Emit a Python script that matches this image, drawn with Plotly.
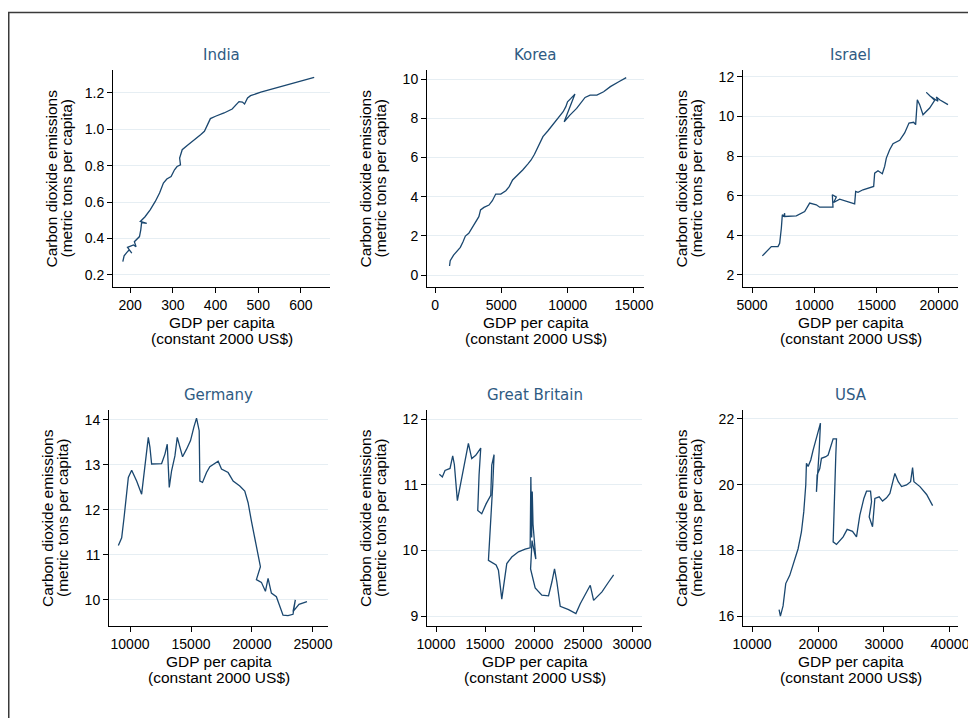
import plotly.graph_objects as go

# ---------------- data ----------------
countries = ["India", "Korea", "Israel", "Germany", "Great Britain", "USA"]

india_gdp = [183, 186, 192, 198, 204, 194, 208, 214, 210, 217, 222, 225, 227, 239, 224, 235, 247, 259, 269, 278,
             286, 296, 304, 310, 318, 316, 322, 333, 349, 365, 374, 380, 388, 400, 420, 439, 447, 455, 463, 468,
             475, 482, 506, 537, 569, 600, 631]
india_co2 = [0.273, 0.305, 0.323, 0.338, 0.32, 0.352, 0.365, 0.356, 0.383, 0.40, 0.411, 0.448, 0.488, 0.484, 0.494,
             0.52, 0.558, 0.604, 0.65, 0.705, 0.727, 0.741, 0.778, 0.796, 0.805, 0.842, 0.888, 0.91, 0.943, 0.971,
             0.989, 1.02, 1.059, 1.072, 1.09, 1.112, 1.13, 1.152, 1.15, 1.139, 1.172, 1.185, 1.204, 1.224, 1.244,
             1.264, 1.286]

korea_gdp = [1093, 1144, 1398, 1653, 1907, 2110, 2288, 2543, 2797, 3051, 3305, 3432, 3687, 4068, 4322, 4576, 4958,
             5339, 5593, 5848, 6229, 6610, 6992, 7246, 7500, 7755, 8136, 8518, 8899, 9280, 9661, 9865, 9992, 10246,
             10551, 9738, 10170, 10678, 11060, 11314, 11696, 12204, 12713, 13221, 13857, 14416]
korea_co2 = [0.46, 0.73, 1.02, 1.22, 1.41, 1.70, 1.99, 2.13, 2.43, 2.72, 2.98, 3.32, 3.45, 3.57, 3.79, 4.13, 4.13,
             4.30, 4.51, 4.85, 5.10, 5.36, 5.66, 5.87, 6.16, 6.55, 7.06, 7.36, 7.69, 7.99, 8.33, 8.59, 8.84, 9.01,
             9.23, 7.82, 8.16, 8.50, 8.84, 9.06, 9.18, 9.18, 9.35, 9.61, 9.86, 10.07]

israel_gdp = [5829, 6150, 6551, 7086, 7219, 7353, 7433, 7540, 7620, 7620, 8556, 9225, 9626, 10160, 10428, 11497,
              11444, 11765, 11551, 12032, 12567, 13235, 13316, 13503, 13904, 14305, 14759, 14840, 15107, 15455,
              15642, 15775, 16043, 16310, 16845, 17246, 17594, 17968, 18128, 18262, 18449, 18717, 19251, 19652,
              18984, 19305, 19920, 19786, 20053, 20722]
israel_co2 = [2.96, 3.18, 3.43, 3.43, 3.60, 4.36, 5.04, 4.95, 5.12, 4.95, 4.98, 5.20, 5.63, 5.54, 5.42, 5.42,
              6.05, 5.93, 5.66, 5.83, 5.71, 5.59, 6.22, 6.17, 6.30, 6.38, 6.47, 7.14, 7.26, 7.11, 7.48, 7.90, 8.32,
              8.63, 8.80, 9.17, 9.67, 9.71, 9.59, 10.85, 10.60, 10.09, 10.43, 10.82, 11.22, 11.02, 10.77, 10.99,
              10.85, 10.60]

germany_gdp = [9046, 9318, 9509, 9673, 9864, 10136, 10545, 10954, 11091, 11227, 11500, 11636, 11773, 12591, 12864,
               13054, 13218, 13409, 13682, 13873, 14309, 14636, 14963, 15236, 15454, 15672, 15727, 15945, 16272,
               16545, 16954, 17227, 17500, 18045, 18454, 19000, 19408, 19681, 19954, 20226, 20499, 20690, 20363,
               20772, 21100, 21318, 21590, 21999, 22544, 22953, 23362, 23553, 23362, 23853, 24508]
germany_co2 = [11.21, 11.38, 11.82, 12.27, 12.72, 12.88, 12.64, 12.35, 12.64, 13.02, 13.61, 13.39, 13.02, 13.03,
               13.24, 13.46, 12.50, 12.87, 13.20, 13.61, 13.18, 13.35, 13.54, 13.84, 14.04, 13.76, 12.64, 12.61,
               12.83, 12.96, 13.03, 13.08, 12.91, 12.83, 12.64, 12.53, 12.42, 12.16, 11.75, 11.38, 10.93, 10.74,
               10.45, 10.39, 10.19, 10.48, 10.15, 10.07, 9.66, 9.65, 9.68, 10.00, 9.74, 9.90, 9.96]

britain_gdp = [10341, 10647, 10920, 11431, 11704, 11874, 12181, 12385, 12726, 12964, 13305, 13646, 14055, 14566,
               14395, 14259, 14668, 15111, 15588, 15690, 15928, 15792, 15520, 15349, 16133, 16371, 16712, 17053,
               17223, 17734, 18416, 19097, 19608, 19680, 19760, 19820, 19900, 20187, 19800, 19650, 20119, 20800,
               21482, 21823, 22095, 22334, 22675, 23526, 24276, 24719, 25230, 25741, 26082, 26934, 27615, 28126]
britain_co2 = [11.16, 11.12, 11.22, 11.25, 11.44, 11.31, 10.76, 10.92, 11.15, 11.35, 11.63, 11.40, 11.45, 11.56,
               11.15, 10.61, 10.56, 10.71, 10.84, 11.30, 11.46, 11.00, 10.20, 9.85, 9.78, 9.70, 9.26, 9.59, 9.80,
               9.90, 9.98, 10.02, 10.04, 11.12, 10.20, 10.90, 10.40, 9.87, 10.15, 9.72, 9.43, 9.32, 9.31, 9.52,
               9.72, 9.52, 9.15, 9.10, 9.04, 9.19, 9.34, 9.47, 9.24, 9.37, 9.52, 9.63]

usa_gdp = [14098, 14300, 14705, 15110, 15717, 16324, 16981, 17487, 17841, 18145, 18246, 18499, 18904, 19258, 19764,
           20270, 20371, 20168, 19764, 19865, 20270, 20523, 21180, 21534, 22293, 22799, 22698, 22546, 22293, 22799,
           23811, 24418, 25227, 25834, 26340, 26947, 27352, 27959, 28111, 27757, 28263, 28617, 29275, 29781, 30387,
           30893, 31298, 31652, 32158, 32664, 33423, 34030, 34334, 34536, 35447, 36459, 37370]
usa_co2 = [16.20, 16.00, 16.31, 16.99, 17.24, 17.60, 18.05, 18.56, 19.17, 19.99, 20.65, 20.55, 20.75, 21.05, 21.41,
           21.82, 21.87, 21.00, 19.78, 20.29, 20.49, 20.80, 20.85, 20.90, 21.39, 21.39, 20.90, 19.78, 18.26, 18.18,
           18.41, 18.64, 18.58, 18.41, 19.07, 19.58, 19.80, 19.80, 19.48, 19.02, 18.72, 19.58, 19.63, 19.50, 19.60,
           19.73, 20.09, 20.34, 20.09, 19.94, 19.99, 20.09, 20.52, 20.09, 19.94, 19.70, 19.36]

series_x = [india_gdp, korea_gdp, israel_gdp, germany_gdp, britain_gdp, usa_gdp]
series_y = [india_co2, korea_co2, israel_co2, germany_co2, britain_co2, usa_co2]

x_ticks = [[200, 300, 400, 500, 600],
           [0, 5000, 10000, 15000],
           [5000, 10000, 15000, 20000],
           [10000, 15000, 20000, 25000],
           [10000, 15000, 20000, 25000, 30000],
           [10000, 20000, 30000, 40000]]
y_ticks = [[0.2, 0.4, 0.6, 0.8, 1.0, 1.2],
           [0, 2, 4, 6, 8, 10],
           [2, 4, 6, 8, 10, 12],
           [10, 11, 12, 13, 14],
           [9, 10, 11, 12],
           [16, 18, 20, 22]]

x_title_lines = ["GDP per capita", "(constant 2000 US$)"]
y_title_lines = ["Carbon dioxide emissions", "(metric tons per capita)"]

# ---------------- layout (page pixels; the page body has an 8px margin) ----------------
OFF = 8
W, H = 968, 710
# (left, right, top, bottom) of each plot area in page pixels
boxes = [(113, 330, 70, 287), (427, 644, 70, 287), (743, 958, 70, 287),
         (109, 328, 410, 626), (427, 642, 410, 626), (743, 958, 410, 626)]
x_ranges = [(160, 668), (-606, 15758), (4278, 21525), (8279, 26230), (9082, 31020), (8632, 41216)]
y_ranges = [(0.134, 1.326), (-0.61, 10.46), (1.39, 12.35), (9.42, 14.22), (8.85, 12.14), (15.70, 22.27)]
y_formats = [".1f", "d", "d", "d", "d", "d"]

LINE = "#1a476f"
GRID = "#e6eef3"
FONT = "Liberation Sans, Arial, sans-serif"
TITLE_SIZE = 15.5


def px(x):
    return (x - OFF) / W


def py(y):
    return 1 - (y - OFF) / H


fig = go.Figure()
annotations = []
layout = {}
for i in range(6):
    n = "" if i == 0 else str(i + 1)
    l, r, t, b = boxes[i]
    fig.add_trace(go.Scatter(x=series_x[i], y=series_y[i], mode="lines",
                             line=dict(color=LINE, width=1.3),
                             xaxis="x" + n, yaxis="y" + n, showlegend=False,
                             hoverinfo="x+y"))
    layout["xaxis" + n] = dict(domain=[px(l), px(r)], range=list(x_ranges[i]), anchor="y" + n,
                               tickvals=x_ticks[i], tickformat="d", showgrid=False, zeroline=False,
                               showline=True, linecolor="black", linewidth=1,
                               ticks="outside", ticklen=5, tickcolor="black",
                               tickfont=dict(family=FONT, size=14, color="black"))
    layout["yaxis" + n] = dict(domain=[py(b), py(t)], range=list(y_ranges[i]), anchor="x" + n,
                               tickvals=y_ticks[i], tickformat=y_formats[i], showgrid=True,
                               gridcolor=GRID, gridwidth=1, zeroline=False,
                               showline=True, linecolor="black", linewidth=1,
                               ticks="outside", ticklen=5, tickcolor="black",
                               tickfont=dict(family=FONT, size=14, color="black"))
    cx = (l + r) / 2
    cy = (t + b) / 2
    annotations.append(dict(text=countries[i], x=px(cx), y=py(t - 15), xref="paper", yref="paper",
                            showarrow=False, xanchor="center", yanchor="middle",
                            font=dict(family="DejaVu Sans, sans-serif", size=15, color="#2f5b83")))
    for k, line_text in enumerate(x_title_lines):
        annotations.append(dict(text=line_text, x=px(cx), y=py(b + 35 + 16 * k), xref="paper", yref="paper",
                                showarrow=False, xanchor="center", yanchor="middle",
                                font=dict(family=FONT, size=TITLE_SIZE, color="black")))
    for k, line_text in enumerate(y_title_lines):
        annotations.append(dict(text=line_text, x=px(l - 62 + 15 * k), y=py(cy), xref="paper", yref="paper",
                                showarrow=False, xanchor="center", yanchor="middle", textangle=-90,
                                font=dict(family=FONT, size=TITLE_SIZE, color="black")))

fig.update_layout(width=W, height=H, margin=dict(l=0, r=0, t=0, b=0, autoexpand=False),
                  paper_bgcolor="white", plot_bgcolor="white", annotations=annotations,
                  shapes=[dict(type="rect", xref="paper", yref="paper",
                               x0=px(8.75), x1=px(1100), y0=py(12.5), y1=py(900),
                               line=dict(color="#3a3a3a", width=1.5))],
                  **layout)

fig.write_html("out.html")
